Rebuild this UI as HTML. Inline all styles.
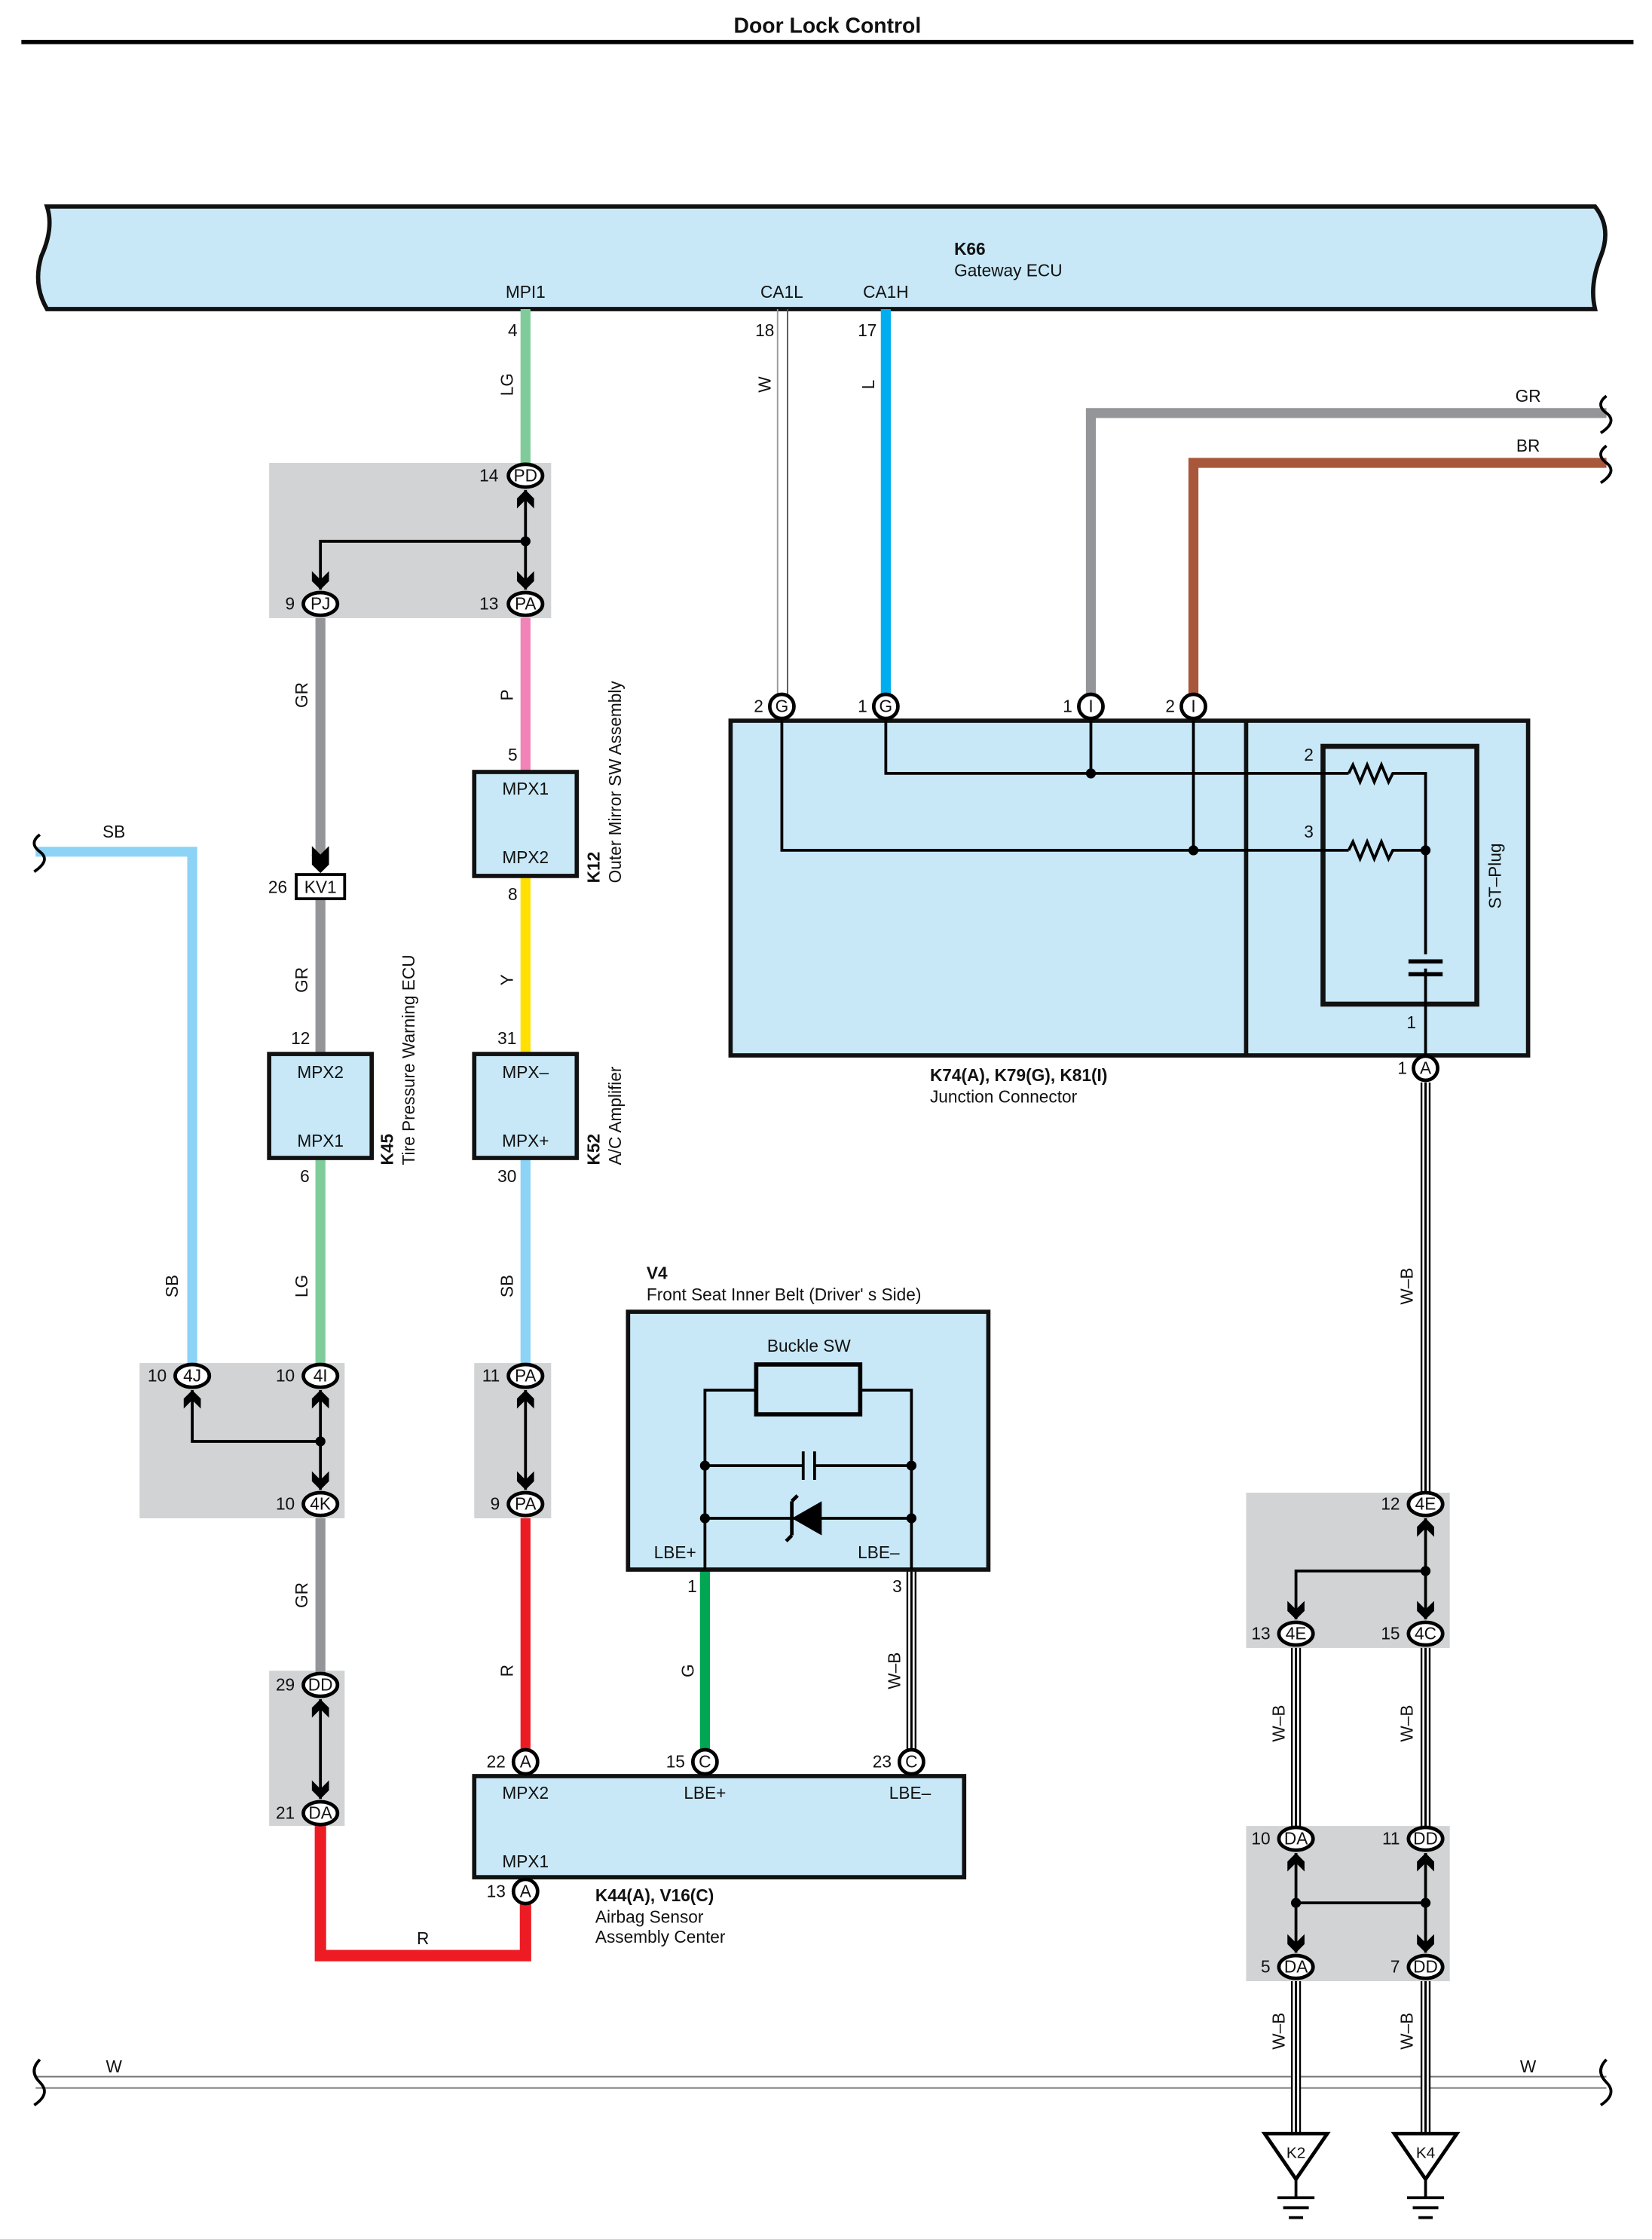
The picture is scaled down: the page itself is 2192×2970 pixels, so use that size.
<!DOCTYPE html>
<html><head><meta charset="utf-8"><style>
html,body{margin:0;padding:0;background:#fff}
svg{display:block}
text{font-family:"Liberation Sans",sans-serif;font-size:12px;fill:#111}
.b{font-weight:bold}
.c{text-anchor:middle}
.e{text-anchor:end}
</style></head><body>
<svg width="2192" height="2970" viewBox="0 0 1160 1572" preserveAspectRatio="none" xmlns="http://www.w3.org/2000/svg">
<defs>
<g id="dn"><path d="M-6,-11 L0,-5 L6,-11 L6,-4 L0,2 L-6,-4 Z" fill="#000"/></g>
<g id="up"><path d="M-6,11 L0,5 L6,11 L6,4 L0,-2 L-6,4 Z" fill="#000"/></g>
</defs>
<text x="581" y="23" class="b c" style="font-size:15px">Door Lock Control</text>
<rect x="15" y="28" width="1132" height="3" fill="#000"/>

<!-- Gateway ECU -->
<path d="M33,145 L1120,145 Q1132,160 1124,180 Q1116,200 1120,217 L33,217 Q23,200 29,180 Q38,160 33,145 Z" fill="#c8e8f7" stroke="#111" stroke-width="3"/>
<text x="670" y="179" class="b">K66</text>
<text x="670" y="194">Gateway ECU</text>
<text x="369" y="209" class="c">MPI1</text>
<text x="549" y="209" class="c">CA1L</text>
<text x="622" y="209" class="c">CA1H</text>

<!-- gray boxes -->
<g fill="#d1d3d4">
<rect x="189" y="325" width="198" height="109"/>
<rect x="98" y="957" width="144" height="109"/>
<rect x="333" y="957" width="54" height="109"/>
<rect x="189" y="1173" width="53" height="109"/>
<rect x="875" y="1048" width="143" height="109"/>
<rect x="875" y="1282" width="143" height="109"/>
</g>

<!-- W bus -->
<line x1="25" y1="1458" x2="1128" y2="1458" stroke="#777" stroke-width="1"/>
<line x1="25" y1="1466" x2="1128" y2="1466" stroke="#777" stroke-width="1"/>
<text x="80" y="1455" class="c">W</text><text x="1073" y="1455" class="c">W</text>
<path d="M28,1446 q-8,8 0,16 q8,8 -4,16" fill="none" stroke="#000" stroke-width="2"/>
<path d="M1128,1446 q-8,8 0,16 q8,8 -4,16" fill="none" stroke="#000" stroke-width="2"/>

<!-- colored wires -->
<g fill="none" stroke-linejoin="miter">
<line x1="369" y1="217" x2="369" y2="334" stroke="#7fcc9a" stroke-width="7"/>
<line x1="622" y1="217" x2="622" y2="496" stroke="#00aeef" stroke-width="7"/>
<path d="M1128,290 H766 V496" stroke="#939598" stroke-width="7"/>
<path d="M1128,325 H838 V496" stroke="#a9573a" stroke-width="7"/>
<line x1="369" y1="434" x2="369" y2="542" stroke="#f283b6" stroke-width="7"/>
<line x1="369" y1="615" x2="369" y2="740" stroke="#ffe000" stroke-width="7"/>
<line x1="369" y1="813" x2="369" y2="966" stroke="#8dd3f5" stroke-width="7"/>
<line x1="225" y1="434" x2="225" y2="600" stroke="#939598" stroke-width="7"/>
<line x1="225" y1="632" x2="225" y2="740" stroke="#939598" stroke-width="7"/>
<line x1="225" y1="813" x2="225" y2="966" stroke="#7fcc9a" stroke-width="7"/>
<path d="M25,598 H135 V966" stroke="#8dd3f5" stroke-width="7"/>
<line x1="225" y1="1066" x2="225" y2="1183" stroke="#939598" stroke-width="7"/>
<path d="M225,1282 V1373 H369 V1328" stroke="#ed1c24" stroke-width="8"/>
<line x1="369" y1="1066" x2="369" y2="1237" stroke="#ed1c24" stroke-width="7"/>
<line x1="495" y1="1102" x2="495" y2="1237" stroke="#00a651" stroke-width="7"/>
</g>
<!-- W wire (CA1L) -->
<line x1="546" y1="217" x2="546" y2="496" stroke="#999" stroke-width="1"/>
<line x1="553" y1="217" x2="553" y2="496" stroke="#555" stroke-width="1"/>
<!-- W-B wires -->
<g stroke-width="1.2">
<g id="wb"><line x1="-4" y1="0" x2="-4" y2="1" stroke="#000"/></g>
</g>
<g fill="none">
<path d="M1001,760 V1056 M1001,1157 V1291 M1001,1391 V1498 M910,1157 V1291 M910,1391 V1498 M640,1102 V1237" stroke="#000" stroke-width="7"/>
<path d="M1001,760 V1056 M1001,1157 V1291 M1001,1391 V1498 M910,1157 V1291 M910,1391 V1498 M640,1102 V1237" stroke="#fff" stroke-width="4.5"/>
<path d="M1001,760 V1056 M1001,1157 V1291 M1001,1391 V1498 M910,1157 V1291 M910,1391 V1498 M640,1102 V1237" stroke="#000" stroke-width="1.6"/>
</g>

<!-- break symbols -->
<path d="M28,586 q-8,6 0,12 q8,6 -4,14" fill="none" stroke="#000" stroke-width="2"/>
<path d="M1128,278 q-8,6 0,12 q8,6 -4,14" fill="none" stroke="#000" stroke-width="2"/>
<path d="M1128,313 q-8,6 0,12 q8,6 -4,14" fill="none" stroke="#000" stroke-width="2"/>

<!-- wire labels -->
<g>
<text x="360" y="236" class="e" style="text-anchor:middle">4</text>
<text x="537" y="236" class="c">18</text>
<text x="609" y="236" class="c">17</text>
<text transform="translate(360,270) rotate(-90)" class="c">LG</text>
<text transform="translate(541,270) rotate(-90)" class="c">W</text>
<text transform="translate(614,270) rotate(-90)" class="c">L</text>
<text x="1073" y="282" class="c">GR</text>
<text x="1073" y="317" class="c">BR</text>
<text x="80" y="588" class="c">SB</text>
<text transform="translate(216,488) rotate(-90)" class="c">GR</text>
<text transform="translate(360,488) rotate(-90)" class="c">P</text>
<text x="360" y="534" class="c">5</text>
<text x="360" y="632" class="c">8</text>
<text transform="translate(360,688) rotate(-90)" class="c">Y</text>
<text x="356" y="733" class="c">31</text>
<text x="195" y="627" class="c">26</text>
<text transform="translate(216,688) rotate(-90)" class="c">GR</text>
<text x="211" y="733" class="c">12</text>
<text x="214" y="830" class="c">6</text>
<text x="356" y="830" class="c">30</text>
<text transform="translate(216,903) rotate(-90)" class="c">LG</text>
<text transform="translate(360,903) rotate(-90)" class="c">SB</text>
<text transform="translate(125,903) rotate(-90)" class="c">SB</text>
<text transform="translate(216,1120) rotate(-90)" class="c">GR</text>
<text transform="translate(360,1173) rotate(-90)" class="c">R</text>
<text x="297" y="1365" class="c">R</text>
<text x="486" y="1118" class="c">1</text>
<text transform="translate(487,1173) rotate(-90)" class="c">G</text>
<text x="630" y="1118" class="c">3</text>
<text transform="translate(632,1173) rotate(-90)" class="c">W–B</text>
<text transform="translate(992,903) rotate(-90)" class="c">W–B</text>
<text transform="translate(902,1210) rotate(-90)" class="c">W–B</text>
<text transform="translate(992,1210) rotate(-90)" class="c">W–B</text>
<text transform="translate(902,1426) rotate(-90)" class="c">W–B</text>
<text transform="translate(992,1426) rotate(-90)" class="c">W–B</text>
</g>

<!-- internal junction lines -->
<g stroke="#000" stroke-width="2" fill="none">
<path d="M369,344 V414 M369,380 H225 V414"/>
<path d="M135,976 V1012 H225 M225,976 V1046"/>
<path d="M369,976 V1046"/>
<path d="M225,1193 V1263"/>
<path d="M1001,1066 V1137 M1001,1103 H910 V1137"/>
<path d="M910,1301 V1371 M1001,1301 V1371 M910,1336 H1001"/>
</g>
<g fill="#000">
<circle cx="369" cy="380" r="3.5"/><circle cx="225" cy="1012" r="3.5"/>
<circle cx="1001" cy="1103" r="3.5"/><circle cx="910" cy="1336" r="3.5"/><circle cx="1001" cy="1336" r="3.5"/>
</g>
<!-- chevrons -->
<use href="#up" x="369" y="346"/><use href="#dn" x="369" y="412"/><use href="#dn" x="225" y="412"/>
<use href="#up" x="135" y="978"/><use href="#up" x="225" y="978"/><use href="#dn" x="225" y="1044"/>
<use href="#up" x="369" y="978"/><use href="#dn" x="369" y="1044"/>
<use href="#up" x="225" y="1195"/><use href="#dn" x="225" y="1261"/>
<use href="#up" x="1001" y="1068"/><use href="#dn" x="1001" y="1135"/><use href="#dn" x="910" y="1135"/>
<use href="#up" x="910" y="1303"/><use href="#up" x="1001" y="1303"/><use href="#dn" x="910" y="1369"/><use href="#dn" x="1001" y="1369"/>
<use href="#dn" x="225" y="605"/><use href="#dn" x="225" y="611"/>

<!-- KV1 -->
<rect x="208" y="614" width="34" height="17" fill="#fff" stroke="#000" stroke-width="2"/>
<text x="225" y="627" class="c">KV1</text>

<!-- component boxes -->
<g fill="#c8e8f7" stroke="#111" stroke-width="3">
<rect x="333" y="542" width="72" height="73"/>
<rect x="189" y="740" width="72" height="73"/>
<rect x="333" y="740" width="72" height="73"/>
<rect x="441" y="921" width="253" height="181"/>
<rect x="333" y="1247" width="344" height="71"/>
<rect x="513" y="506" width="560" height="235"/>
</g>
<line x1="875" y1="506" x2="875" y2="741" stroke="#111" stroke-width="3"/>
<rect x="929" y="524" width="108" height="181" fill="none" stroke="#111" stroke-width="3.5"/>

<text x="369" y="558" class="c">MPX1</text><text x="369" y="606" class="c">MPX2</text>
<text x="225" y="757" class="c">MPX2</text><text x="225" y="805" class="c">MPX1</text>
<text x="369" y="757" class="c">MPX–</text><text x="369" y="805" class="c">MPX+</text>
<text transform="translate(421,620) rotate(-90)" class="b">K12</text>
<text transform="translate(436,620) rotate(-90)">Outer Mirror SW Assembly</text>
<text transform="translate(276,818) rotate(-90)" class="b">K45</text>
<text transform="translate(291,818) rotate(-90)">Tire Pressure Warning ECU</text>
<text transform="translate(421,818) rotate(-90)" class="b">K52</text>
<text transform="translate(436,818) rotate(-90)">A/C Amplifier</text>

<!-- V4 -->
<text x="454" y="898" class="b">V4</text>
<text x="454" y="913">Front Seat Inner Belt (Driver' s Side)</text>
<text x="568" y="949" class="c">Buckle SW</text>
<g stroke="#000" stroke-width="2" fill="none">
<rect x="531" y="958" width="73" height="35" stroke-width="3"/>
<path d="M531,976 H495 V1102 M604,976 H640 V1102"/>
<path d="M495,1029 H564 M572,1029 H640 M564,1019 V1039 M572,1019 V1039"/>
<path d="M495,1066 H640"/>
</g>
<path d="M577,1054 V1078 L556,1066 Z" fill="#000"/>
<path d="M556,1054 V1078 M556,1078 L552,1082 M556,1054 L560,1050" stroke="#000" stroke-width="2.5" fill="none"/>
<g fill="#000"><circle cx="495" cy="1029" r="3.5"/><circle cx="640" cy="1029" r="3.5"/><circle cx="495" cy="1066" r="3.5"/><circle cx="640" cy="1066" r="3.5"/></g>
<text x="474" y="1094" class="c">LBE+</text><text x="617" y="1094" class="c">LBE–</text>

<!-- K44 -->
<text x="369" y="1263" class="c">MPX2</text><text x="495" y="1263" class="c">LBE+</text><text x="639" y="1263" class="c">LBE–</text>
<text x="369" y="1311" class="c">MPX1</text>
<text x="418" y="1335" class="b">K44(A), V16(C)</text>
<text x="418" y="1350">Airbag Sensor</text>
<text x="418" y="1364">Assembly Center</text>

<!-- Junction connector internals -->
<g stroke="#000" stroke-width="2" fill="none">
<path d="M622,506 V543 H947 M549,506 V597 H947 M766,506 V543 M838,506 V597"/>
<path d="M947,543 l3,-6 l5,12 l5,-12 l5,12 l5,-12 l5,12 l3,-6 H1001 V670 M947,597 l3,-6 l5,12 l5,-12 l5,12 l5,-12 l5,12 l3,-6 H1001"/>
<path d="M1001,680 V741"/>
<path d="M989,675 H1013 M989,684 H1013" stroke-width="3"/>
</g>
<g fill="#000"><circle cx="766" cy="543" r="3.5"/><circle cx="838" cy="597" r="3.5"/><circle cx="1001" cy="597" r="3.5"/></g>
<text x="919" y="534" class="c">2</text><text x="919" y="588" class="c">3</text><text x="991" y="722" class="c">1</text>
<text transform="translate(1054,615) rotate(-90)" class="c">ST–Plug</text>
<text x="653" y="759" class="b">K74(A), K79(G), K81(I)</text>
<text x="653" y="774">Junction Connector</text>

<!-- oval connectors -->
<g fill="#fff" stroke="#000" stroke-width="2.5">
<ellipse cx="369" cy="334" rx="12" ry="8"/><ellipse cx="369" cy="424" rx="12" ry="8"/><ellipse cx="225" cy="424" rx="12" ry="8"/>
<ellipse cx="135" cy="966" rx="12" ry="8"/><ellipse cx="225" cy="966" rx="12" ry="8"/><ellipse cx="225" cy="1056" rx="12" ry="8"/>
<ellipse cx="369" cy="966" rx="12" ry="8"/><ellipse cx="369" cy="1056" rx="12" ry="8"/>
<ellipse cx="225" cy="1183" rx="12" ry="8"/><ellipse cx="225" cy="1273" rx="12" ry="8"/>
<ellipse cx="1001" cy="1056" rx="12" ry="8"/><ellipse cx="910" cy="1147" rx="12" ry="8"/><ellipse cx="1001" cy="1147" rx="12" ry="8"/>
<ellipse cx="910" cy="1291" rx="12" ry="8"/><ellipse cx="1001" cy="1291" rx="12" ry="8"/><ellipse cx="910" cy="1381" rx="12" ry="8"/><ellipse cx="1001" cy="1381" rx="12" ry="8"/>
<circle cx="549" cy="496" r="8.5"/><circle cx="622" cy="496" r="8.5"/><circle cx="766" cy="496" r="8.5"/><circle cx="838" cy="496" r="8.5"/>
<circle cx="1001" cy="750" r="8.5"/>
<circle cx="369" cy="1237" r="8.5"/><circle cx="495" cy="1237" r="8.5"/><circle cx="640" cy="1237" r="8.5"/><circle cx="369" cy="1328" r="8.5"/>
</g>
<g style="font-size:11px">
<text x="369" y="338" class="c">PD</text><text x="369" y="428" class="c">PA</text><text x="225" y="428" class="c">PJ</text>
<text x="135" y="970" class="c">4J</text><text x="225" y="970" class="c">4I</text><text x="225" y="1060" class="c">4K</text>
<text x="369" y="970" class="c">PA</text><text x="369" y="1060" class="c">PA</text>
<text x="225" y="1187" class="c">DD</text><text x="225" y="1277" class="c">DA</text>
<text x="1001" y="1060" class="c">4E</text><text x="910" y="1151" class="c">4E</text><text x="1001" y="1151" class="c">4C</text>
<text x="910" y="1295" class="c">DA</text><text x="1001" y="1295" class="c">DD</text><text x="910" y="1385" class="c">DA</text><text x="1001" y="1385" class="c">DD</text>
<text x="549" y="500" class="c">G</text><text x="622" y="500" class="c">G</text><text x="766" y="500" class="c">I</text><text x="838" y="500" class="c">I</text>
<text x="1001" y="754" class="c">A</text>
<text x="369" y="1241" class="c">A</text><text x="495" y="1241" class="c">C</text><text x="640" y="1241" class="c">C</text><text x="369" y="1332" class="c">A</text>
</g>
<!-- pin numbers -->
<g>
<text x="350" y="338" class="e">14</text><text x="350" y="428" class="e">13</text><text x="207" y="428" class="e">9</text>
<text x="117" y="970" class="e">10</text><text x="207" y="970" class="e">10</text><text x="207" y="1060" class="e">10</text>
<text x="351" y="970" class="e">11</text><text x="351" y="1060" class="e">9</text>
<text x="207" y="1187" class="e">29</text><text x="207" y="1277" class="e">21</text>
<text x="983" y="1060" class="e">12</text><text x="892" y="1151" class="e">13</text><text x="983" y="1151" class="e">15</text>
<text x="892" y="1295" class="e">10</text><text x="983" y="1295" class="e">11</text><text x="892" y="1385" class="e">5</text><text x="983" y="1385" class="e">7</text>
<text x="536" y="500" class="e">2</text><text x="609" y="500" class="e">1</text><text x="753" y="500" class="e">1</text><text x="825" y="500" class="e">2</text>
<text x="988" y="754" class="e">1</text>
<text x="355" y="1241" class="e">22</text><text x="481" y="1241" class="e">15</text><text x="626" y="1241" class="e">23</text><text x="355" y="1332" class="e">13</text>
</g>

<!-- grounds -->
<g fill="#fff" stroke="#000" stroke-width="2.5">
<path d="M888,1498 H932 L910,1530 Z"/><path d="M979,1498 H1023 L1001,1530 Z"/>
</g>
<g stroke="#000" stroke-width="2">
<path d="M910,1530 V1543 M897,1543 H923 M901,1550 H919 M905,1557 H915"/>
<path d="M1001,1530 V1543 M988,1543 H1014 M992,1550 H1010 M996,1557 H1006"/>
</g>
<text x="910" y="1515" class="c" style="font-size:11px">K2</text>
<text x="1001" y="1515" class="c" style="font-size:11px">K4</text>
</svg>
</body></html>
